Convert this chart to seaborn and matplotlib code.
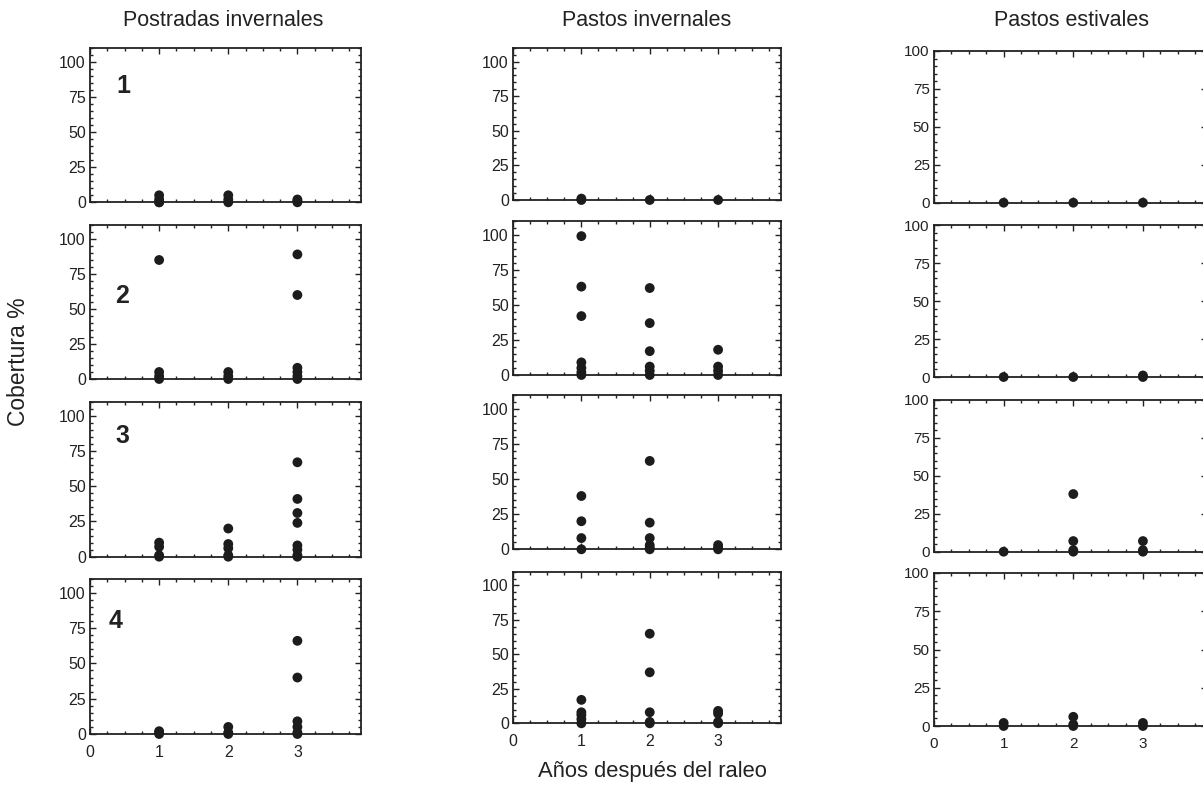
import matplotlib
matplotlib.use("Agg")
import matplotlib.pyplot as plt
import seaborn as sns
import pandas as pd
from matplotlib.ticker import MultipleLocator

# ---------------- data ----------------
years = [1, 2, 3]
groups = ["Postradas invernales", "Pastos invernales", "Pastos estivales"]
panel_labels = ["1", "2", "3", "4"]

# values per year (1, 2, 3) for each site row
postradas_1 = [[0, 0, 2, 5], [0, 2, 5], [0, 1, 2]]
postradas_2 = [[85, 5, 2, 0], [5, 2, 0], [89, 60, 8, 5, 2, 0]]
postradas_3 = [[10, 7, 1, 0], [20, 9, 6, 1, 0], [67, 41, 31, 24, 8, 5, 1, 0]]
postradas_4 = [[2, 1, 0], [5, 1, 0], [66, 40, 9, 5, 1, 0]]

pinv_1 = [[1, 0], [0], [0]]
pinv_2 = [[99, 63, 42, 9, 5, 2, 0], [62, 37, 17, 6, 3, 0], [18, 6, 3, 0]]
pinv_3 = [[38, 20, 8, 0], [63, 19, 8, 3, 1, 0], [3, 1, 0]]
pinv_4 = [[17, 8, 6, 3, 0], [65, 37, 8, 1, 0], [9, 7, 1, 0]]

pest_1 = [[0], [0], [0]]
pest_2 = [[0], [0], [1, 0]]
pest_3 = [[0], [38, 7, 1, 0], [7, 1, 0]]
pest_4 = [[2, 0], [6, 1, 0], [2, 0]]

columns = [
    [postradas_1, postradas_2, postradas_3, postradas_4],
    [pinv_1, pinv_2, pinv_3, pinv_4],
    [pest_1, pest_2, pest_3, pest_4],
]
ytop = [110, 110, 100]

# label positions (data coords) for site numbers in first column
label_pos = [(0.49, 83), (0.47, 59), (0.47, 86), (0.37, 80)]

# ---------------- layout (pixels) ----------------
W, H = 1203, 789
col_x = [(90, 361), (513, 781), (934, 1207)]
col_rows = [
    [(47.7, 202.3), (225, 379), (401.7, 556.7), (578.7, 734)],
    [(47.7, 200), (220.7, 375), (395, 549.3), (571.7, 723.3)],
    [(51, 202.7), (225, 377), (400, 551.7), (573, 726)],
]

sns.set_style("ticks")
plt.rcParams["font.family"] = ["Liberation Sans", "DejaVu Sans"]
plt.rcParams["text.color"] = "#222222"

fig = plt.figure(figsize=(W / 100, H / 100), dpi=100)

def px_axes(x0, x1, y0, y1):
    return fig.add_axes([x0 / W, 1 - y1 / H, (x1 - x0) / W, (y1 - y0) / H])

for c, panels in enumerate(columns):
    for r, vals in enumerate(panels):
        x0, x1 = col_x[c]
        y0, y1 = col_rows[c][r]
        ax = px_axes(x0, x1, y0, y1)
        xs, ys = [], []
        for yr, v in zip(years, vals):
            xs += [yr] * len(v)
            ys += v
        df = pd.DataFrame({"year": xs, "cover": ys})
        sns.scatterplot(data=df, x="year", y="cover", ax=ax, color="#1c1c1c",
                        s=50, edgecolor="none", clip_on=False, legend=False,
                        zorder=5)
        ax.set_xlim(0, 3.92)
        ax.set_ylim(0, ytop[c])
        ax.xaxis.set_major_locator(MultipleLocator(1))
        ax.xaxis.set_minor_locator(MultipleLocator(0.25))
        ax.set_yticks([0, 25, 50, 75, 100])
        ax.yaxis.set_minor_locator(MultipleLocator(5))
        ax.tick_params(which="both", direction="in", top=True, right=True,
                       colors="#222222", width=1.0)
        ax.tick_params(which="major", length=4,
                       labelsize=11.5 if c < 2 else 11, pad=3)
        ax.tick_params(axis="x", which="major", pad=8)
        ax.tick_params(which="minor", length=2)
        for sp in ax.spines.values():
            sp.set_linewidth(1.3)
            sp.set_color("#222222")
        ax.set_xlabel("")
        ax.set_ylabel("")
        if r < 3:
            ax.set_xticklabels([])
        else:
            ax.set_xticks([0, 1, 2, 3])
        if c == 0:
            lx, ly = label_pos[r]
            ax.text(lx, ly, panel_labels[r], fontsize=18, fontweight="bold",
                    ha="center", va="center", color="#222222")

title_x = [223, 647, 1072]
for c, t in enumerate(groups):
    fig.text(title_x[c] / W, 1 - 21 / H, t, ha="center", va="center",
             fontsize=15.5)

fig.text(19 / W, 1 - 362 / H, "Cobertura %", rotation=90, ha="center",
         va="center", fontsize=16.5)
fig.text(652 / W, 1 - 772 / H, "Años después del raleo", ha="center",
         va="center", fontsize=15.8)

fig.savefig("out.png", dpi=100, facecolor="white")
